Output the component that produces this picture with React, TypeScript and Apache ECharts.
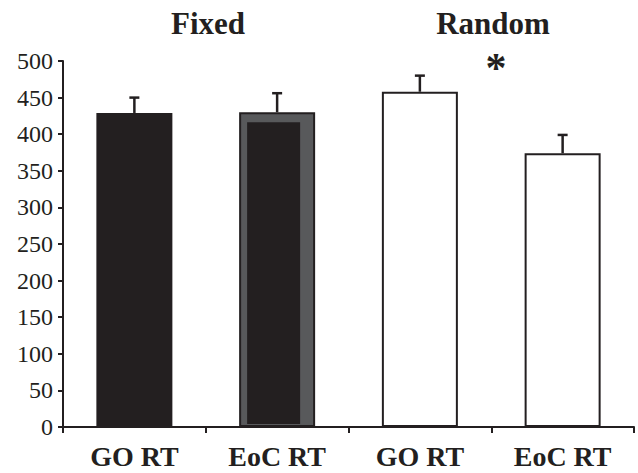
import React, { useEffect, useRef } from "react";
import * as echarts from "echarts";

const categories = ["GO RT", "EoC RT", "GO RT", "EoC RT"];
const means = [429, 430, 458, 374];
const errors = [21, 26, 22, 25];
const groupTitles = ["Fixed", "Random"];
const yTicks = { min: 0, max: 500, interval: 50 };

const INK = "#231f20";
const GRAY = "#58595b";
const SERIF = "'Liberation Serif', 'Times New Roman', serif";

export default function App() {
  const ref = useRef<HTMLDivElement>(null);
  useEffect(() => {
    if (!ref.current) return;
    const chart = echarts.init(ref.current, null, { renderer: "svg" });
    const fills = [INK, GRAY, "#ffffff", "#ffffff"];
    chart.setOption({
      animation: false,
      backgroundColor: "#ffffff",
      grid: { left: 63, right: 4, top: 61, bottom: 46, containLabel: false },
      xAxis: {
        type: "category",
        data: categories,
        boundaryGap: true,
        axisLine: { show: true, lineStyle: { color: INK, width: 2 } },
        axisTick: { show: true, alignWithLabel: false, length: 6, lineStyle: { color: INK, width: 2 } },
        axisLabel: {
          color: INK,
          fontFamily: SERIF,
          fontWeight: "bold",
          fontSize: 28,
          margin: 15,
        },
        splitLine: { show: false },
      },
      yAxis: {
        type: "value",
        min: yTicks.min,
        max: yTicks.max,
        interval: yTicks.interval,
        axisLine: { show: true, lineStyle: { color: INK, width: 2 } },
        axisTick: { show: true, length: 5, lineStyle: { color: INK, width: 2 } },
        axisLabel: { color: INK, fontFamily: SERIF, fontSize: 24, margin: 10 },
        splitLine: { show: false },
      },
      series: [
        {
          type: "bar",
          barWidth: 76,
          data: means.map((v, i) => ({
            value: v,
            itemStyle: { color: fills[i], borderColor: INK, borderWidth: 2 },
          })),
          z: 2,
        },
        {
          type: "custom",
          z: 3,
          data: means.map((v, i) => [i, v]),
          renderItem: (params: any, api: any) => {
            const i = api.value(0);
            if (i !== 1) return null;
            const top = api.coord([i, api.value(1)]);
            const base = api.coord([i, 0]);
            const w = 76;
            const x0 = top[0] - w / 2;
            return {
              type: "rect",
              shape: { x: x0 + 8, y: top[1] + 10, width: w - 23, height: base[1] - top[1] - 13 },
              style: { fill: INK },
            };
          },
        },
        {
          type: "custom",
          z: 4,
          data: means.map((v, i) => [i, v, v + errors[i]]),
          renderItem: (params: any, api: any) => {
            const i = api.value(0);
            const lo = api.coord([i, api.value(1)]);
            const hi = api.coord([i, api.value(2)]);
            const cap = 5;
            return {
              type: "group",
              children: [
                { type: "line", shape: { x1: lo[0], y1: lo[1], x2: hi[0], y2: hi[1] }, style: { stroke: INK, lineWidth: 2.5 } },
                { type: "line", shape: { x1: hi[0] - cap, y1: hi[1], x2: hi[0] + cap, y2: hi[1] }, style: { stroke: INK, lineWidth: 2.5 } },
              ],
            };
          },
        },
      ],
      graphic: [
        {
          type: "text",
          x: 208,
          y: 23,
          style: { text: groupTitles[0], fontFamily: SERIF, fontWeight: "bold", fontSize: 31, fill: INK, textAlign: "center", textVerticalAlign: "middle" },
        },
        {
          type: "text",
          x: 493,
          y: 23,
          style: { text: groupTitles[1], fontFamily: SERIF, fontWeight: "bold", fontSize: 31, fill: INK, textAlign: "center", textVerticalAlign: "middle" },
        },
        {
          type: "text",
          x: 496,
          y: 68,
          style: { text: "*", fontFamily: SERIF, fontWeight: "bold", fontSize: 42, fill: INK, textAlign: "center", textVerticalAlign: "middle" },
        },
      ],
    });
    return () => chart.dispose();
  }, []);
  return <div ref={ref} style={{ width: 638, height: 473, position: "absolute", left: 0, top: 0 }} />;
}
